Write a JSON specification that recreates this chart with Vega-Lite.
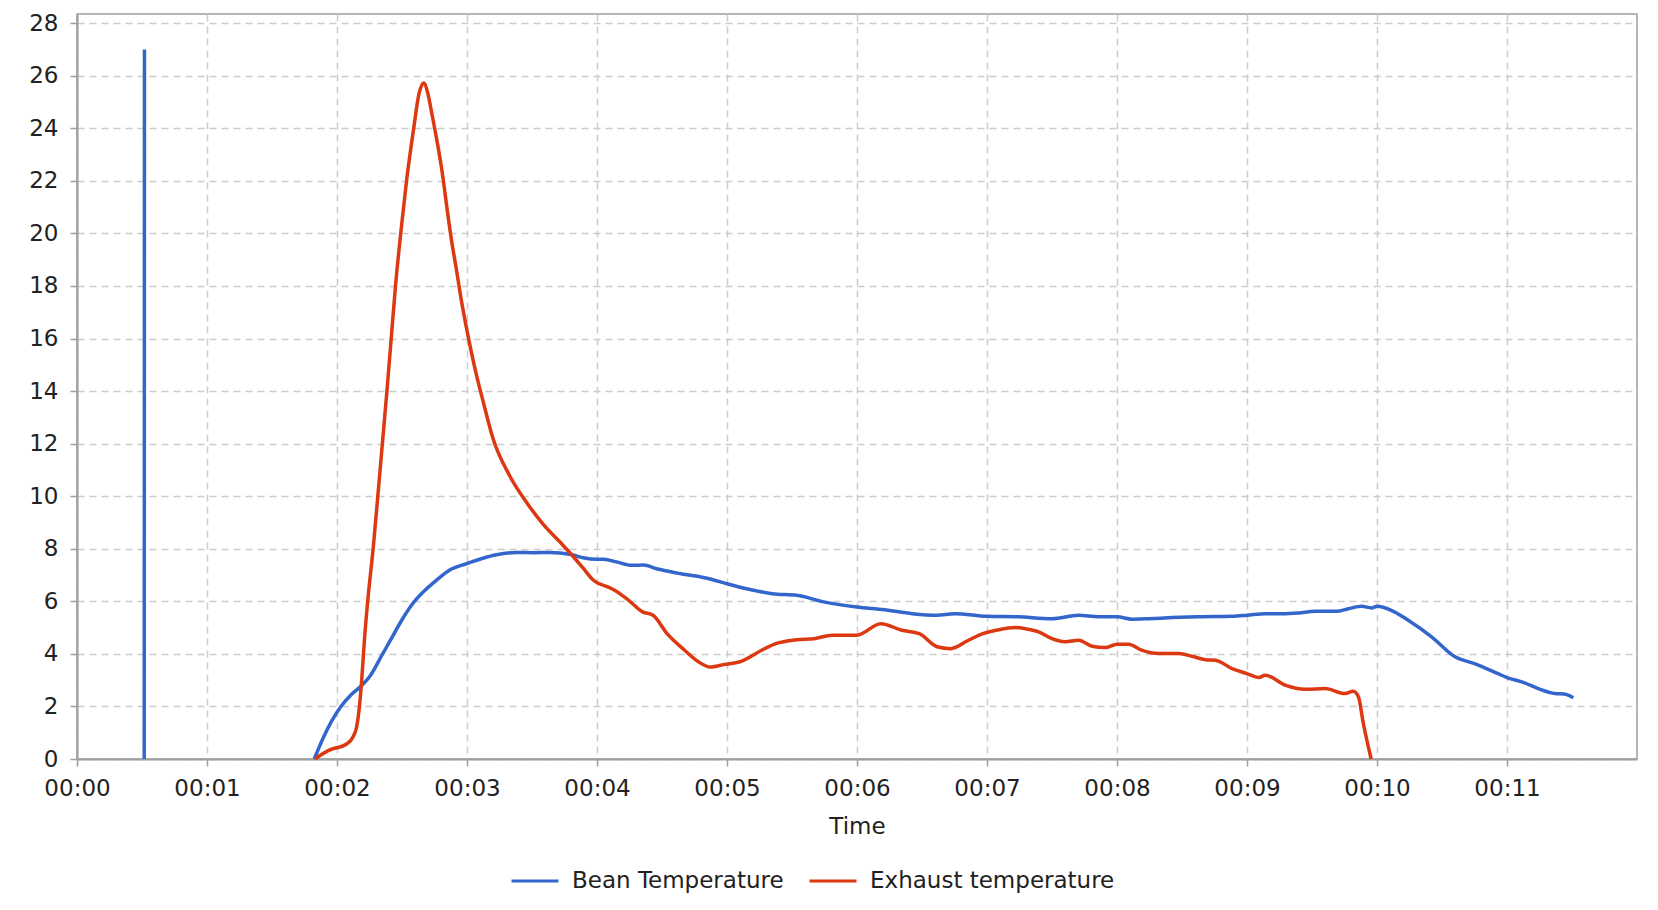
{
  "$schema": "https://vega.github.io/schema/vega-lite/v6.json",
  "autosize": "none",
  "width": 1560,
  "height": 745,
  "padding": {"left": 77, "top": 14, "right": 21, "bottom": 151},
  "background": "white",
  "data": {
    "values": [
      {"series": "Bean Temperature", "t": 0.517, "v": 0},
      {"series": "Bean Temperature", "t": 0.519, "v": 27},
      {"series": "Bean Temperature", "t": 1.0, "v": null},
      {"series": "Bean Temperature", "t": 1.825, "v": 0},
      {"series": "Bean Temperature", "t": 1.897, "v": 0.84},
      {"series": "Bean Temperature", "t": 1.962, "v": 1.47},
      {"series": "Bean Temperature", "t": 2.03, "v": 2.0},
      {"series": "Bean Temperature", "t": 2.103, "v": 2.42},
      {"series": "Bean Temperature", "t": 2.179, "v": 2.75},
      {"series": "Bean Temperature", "t": 2.26, "v": 3.2},
      {"series": "Bean Temperature", "t": 2.34, "v": 3.9},
      {"series": "Bean Temperature", "t": 2.42, "v": 4.6},
      {"series": "Bean Temperature", "t": 2.5, "v": 5.3},
      {"series": "Bean Temperature", "t": 2.58, "v": 5.9},
      {"series": "Bean Temperature", "t": 2.662, "v": 6.35},
      {"series": "Bean Temperature", "t": 2.764, "v": 6.8},
      {"series": "Bean Temperature", "t": 2.867, "v": 7.19},
      {"series": "Bean Temperature", "t": 3.0, "v": 7.44},
      {"series": "Bean Temperature", "t": 3.123, "v": 7.64},
      {"series": "Bean Temperature", "t": 3.226, "v": 7.77},
      {"series": "Bean Temperature", "t": 3.379, "v": 7.86},
      {"series": "Bean Temperature", "t": 3.515, "v": 7.85},
      {"series": "Bean Temperature", "t": 3.636, "v": 7.86},
      {"series": "Bean Temperature", "t": 3.8, "v": 7.78},
      {"series": "Bean Temperature", "t": 3.892, "v": 7.66},
      {"series": "Bean Temperature", "t": 4.0, "v": 7.6},
      {"series": "Bean Temperature", "t": 4.054, "v": 7.6},
      {"series": "Bean Temperature", "t": 4.15, "v": 7.5},
      {"series": "Bean Temperature", "t": 4.27, "v": 7.37},
      {"series": "Bean Temperature", "t": 4.358, "v": 7.38},
      {"series": "Bean Temperature", "t": 4.458, "v": 7.24},
      {"series": "Bean Temperature", "t": 4.647, "v": 7.05},
      {"series": "Bean Temperature", "t": 4.863, "v": 6.86},
      {"series": "Bean Temperature", "t": 5.0, "v": 6.67},
      {"series": "Bean Temperature", "t": 5.186, "v": 6.44},
      {"series": "Bean Temperature", "t": 5.348, "v": 6.29},
      {"series": "Bean Temperature", "t": 5.536, "v": 6.23},
      {"series": "Bean Temperature", "t": 5.752, "v": 5.97},
      {"series": "Bean Temperature", "t": 6.0, "v": 5.78},
      {"series": "Bean Temperature", "t": 6.21, "v": 5.68},
      {"series": "Bean Temperature", "t": 6.426, "v": 5.53},
      {"series": "Bean Temperature", "t": 6.615, "v": 5.47},
      {"series": "Bean Temperature", "t": 6.75, "v": 5.53},
      {"series": "Bean Temperature", "t": 7.0, "v": 5.43},
      {"series": "Bean Temperature", "t": 7.237, "v": 5.41},
      {"series": "Bean Temperature", "t": 7.5, "v": 5.34},
      {"series": "Bean Temperature", "t": 7.705, "v": 5.47},
      {"series": "Bean Temperature", "t": 7.859, "v": 5.41},
      {"series": "Bean Temperature", "t": 8.0, "v": 5.41},
      {"series": "Bean Temperature", "t": 8.115, "v": 5.32},
      {"series": "Bean Temperature", "t": 8.244, "v": 5.34},
      {"series": "Bean Temperature", "t": 8.423, "v": 5.38},
      {"series": "Bean Temperature", "t": 8.629, "v": 5.41},
      {"series": "Bean Temperature", "t": 8.885, "v": 5.43},
      {"series": "Bean Temperature", "t": 9.0, "v": 5.47},
      {"series": "Bean Temperature", "t": 9.141, "v": 5.53},
      {"series": "Bean Temperature", "t": 9.269, "v": 5.53},
      {"series": "Bean Temperature", "t": 9.397, "v": 5.56},
      {"series": "Bean Temperature", "t": 9.524, "v": 5.62},
      {"series": "Bean Temperature", "t": 9.69, "v": 5.62},
      {"series": "Bean Temperature", "t": 9.78, "v": 5.72},
      {"series": "Bean Temperature", "t": 9.882, "v": 5.81},
      {"series": "Bean Temperature", "t": 9.959, "v": 5.75},
      {"series": "Bean Temperature", "t": 10.0, "v": 5.81},
      {"series": "Bean Temperature", "t": 10.11, "v": 5.66},
      {"series": "Bean Temperature", "t": 10.24, "v": 5.28},
      {"series": "Bean Temperature", "t": 10.42, "v": 4.65},
      {"series": "Bean Temperature", "t": 10.6, "v": 3.89},
      {"series": "Bean Temperature", "t": 10.75, "v": 3.63},
      {"series": "Bean Temperature", "t": 10.93, "v": 3.25},
      {"series": "Bean Temperature", "t": 11.0, "v": 3.1},
      {"series": "Bean Temperature", "t": 11.135, "v": 2.9},
      {"series": "Bean Temperature", "t": 11.24, "v": 2.68},
      {"series": "Bean Temperature", "t": 11.37, "v": 2.49},
      {"series": "Bean Temperature", "t": 11.44, "v": 2.47},
      {"series": "Bean Temperature", "t": 11.51, "v": 2.33},
      {"series": "Exhaust temperature", "t": 1.833, "v": 0},
      {"series": "Exhaust temperature", "t": 1.872, "v": 0.14},
      {"series": "Exhaust temperature", "t": 1.936, "v": 0.33},
      {"series": "Exhaust temperature", "t": 2.077, "v": 0.58},
      {"series": "Exhaust temperature", "t": 2.123, "v": 0.84},
      {"series": "Exhaust temperature", "t": 2.15, "v": 1.2},
      {"series": "Exhaust temperature", "t": 2.172, "v": 1.97},
      {"series": "Exhaust temperature", "t": 2.19, "v": 3.0},
      {"series": "Exhaust temperature", "t": 2.212, "v": 4.6},
      {"series": "Exhaust temperature", "t": 2.24, "v": 6.2},
      {"series": "Exhaust temperature", "t": 2.278, "v": 8.0},
      {"series": "Exhaust temperature", "t": 2.314, "v": 10.0},
      {"series": "Exhaust temperature", "t": 2.349, "v": 12.0},
      {"series": "Exhaust temperature", "t": 2.384, "v": 14.0},
      {"series": "Exhaust temperature", "t": 2.417, "v": 16.0},
      {"series": "Exhaust temperature", "t": 2.45, "v": 18.0},
      {"series": "Exhaust temperature", "t": 2.49, "v": 20.0},
      {"series": "Exhaust temperature", "t": 2.535, "v": 22.0},
      {"series": "Exhaust temperature", "t": 2.59, "v": 24.0},
      {"series": "Exhaust temperature", "t": 2.63, "v": 25.3},
      {"series": "Exhaust temperature", "t": 2.667, "v": 25.72},
      {"series": "Exhaust temperature", "t": 2.7, "v": 25.3},
      {"series": "Exhaust temperature", "t": 2.73, "v": 24.55},
      {"series": "Exhaust temperature", "t": 2.764, "v": 23.66},
      {"series": "Exhaust temperature", "t": 2.81, "v": 22.3},
      {"series": "Exhaust temperature", "t": 2.841, "v": 21.15},
      {"series": "Exhaust temperature", "t": 2.879, "v": 19.8},
      {"series": "Exhaust temperature", "t": 2.918, "v": 18.64},
      {"series": "Exhaust temperature", "t": 2.956, "v": 17.47},
      {"series": "Exhaust temperature", "t": 3.0, "v": 16.3},
      {"series": "Exhaust temperature", "t": 3.072, "v": 14.63},
      {"series": "Exhaust temperature", "t": 3.123, "v": 13.63},
      {"series": "Exhaust temperature", "t": 3.2, "v": 12.2},
      {"series": "Exhaust temperature", "t": 3.328, "v": 10.78},
      {"series": "Exhaust temperature", "t": 3.456, "v": 9.78},
      {"series": "Exhaust temperature", "t": 3.585, "v": 8.94},
      {"series": "Exhaust temperature", "t": 3.713, "v": 8.27},
      {"series": "Exhaust temperature", "t": 3.8, "v": 7.8},
      {"series": "Exhaust temperature", "t": 3.892, "v": 7.27},
      {"series": "Exhaust temperature", "t": 3.973, "v": 6.8},
      {"series": "Exhaust temperature", "t": 4.097, "v": 6.52},
      {"series": "Exhaust temperature", "t": 4.135, "v": 6.42},
      {"series": "Exhaust temperature", "t": 4.243, "v": 6.04},
      {"series": "Exhaust temperature", "t": 4.35, "v": 5.6},
      {"series": "Exhaust temperature", "t": 4.431, "v": 5.47},
      {"series": "Exhaust temperature", "t": 4.539, "v": 4.77},
      {"series": "Exhaust temperature", "t": 4.674, "v": 4.14},
      {"series": "Exhaust temperature", "t": 4.78, "v": 3.7},
      {"series": "Exhaust temperature", "t": 4.87, "v": 3.5},
      {"series": "Exhaust temperature", "t": 4.98, "v": 3.6},
      {"series": "Exhaust temperature", "t": 5.1, "v": 3.7},
      {"series": "Exhaust temperature", "t": 5.267, "v": 4.14},
      {"series": "Exhaust temperature", "t": 5.375, "v": 4.39},
      {"series": "Exhaust temperature", "t": 5.536, "v": 4.54},
      {"series": "Exhaust temperature", "t": 5.671, "v": 4.58},
      {"series": "Exhaust temperature", "t": 5.81, "v": 4.71},
      {"series": "Exhaust temperature", "t": 6.0, "v": 4.71},
      {"series": "Exhaust temperature", "t": 6.183, "v": 5.15},
      {"series": "Exhaust temperature", "t": 6.345, "v": 4.9},
      {"series": "Exhaust temperature", "t": 6.48, "v": 4.77},
      {"series": "Exhaust temperature", "t": 6.615, "v": 4.27},
      {"series": "Exhaust temperature", "t": 6.72, "v": 4.2},
      {"series": "Exhaust temperature", "t": 6.85, "v": 4.5},
      {"series": "Exhaust temperature", "t": 6.968, "v": 4.77},
      {"series": "Exhaust temperature", "t": 7.09, "v": 4.92},
      {"series": "Exhaust temperature", "t": 7.218, "v": 5.0},
      {"series": "Exhaust temperature", "t": 7.295, "v": 4.96},
      {"series": "Exhaust temperature", "t": 7.397, "v": 4.84},
      {"series": "Exhaust temperature", "t": 7.5, "v": 4.58},
      {"series": "Exhaust temperature", "t": 7.603, "v": 4.46},
      {"series": "Exhaust temperature", "t": 7.705, "v": 4.52},
      {"series": "Exhaust temperature", "t": 7.808, "v": 4.29},
      {"series": "Exhaust temperature", "t": 7.91, "v": 4.24},
      {"series": "Exhaust temperature", "t": 8.0, "v": 4.37},
      {"series": "Exhaust temperature", "t": 8.09, "v": 4.37},
      {"series": "Exhaust temperature", "t": 8.19, "v": 4.14},
      {"series": "Exhaust temperature", "t": 8.32, "v": 4.01},
      {"series": "Exhaust temperature", "t": 8.474, "v": 4.01},
      {"series": "Exhaust temperature", "t": 8.577, "v": 3.91},
      {"series": "Exhaust temperature", "t": 8.68, "v": 3.78},
      {"series": "Exhaust temperature", "t": 8.757, "v": 3.76},
      {"series": "Exhaust temperature", "t": 8.885, "v": 3.44},
      {"series": "Exhaust temperature", "t": 9.0, "v": 3.25},
      {"series": "Exhaust temperature", "t": 9.09, "v": 3.1},
      {"series": "Exhaust temperature", "t": 9.14, "v": 3.19},
      {"series": "Exhaust temperature", "t": 9.294, "v": 2.81},
      {"series": "Exhaust temperature", "t": 9.448, "v": 2.65},
      {"series": "Exhaust temperature", "t": 9.6, "v": 2.68},
      {"series": "Exhaust temperature", "t": 9.754, "v": 2.49},
      {"series": "Exhaust temperature", "t": 9.818, "v": 2.58},
      {"series": "Exhaust temperature", "t": 9.857, "v": 2.37},
      {"series": "Exhaust temperature", "t": 9.895, "v": 1.35},
      {"series": "Exhaust temperature", "t": 9.955, "v": 0}
    ]
  },
  "mark": {"type": "line", "strokeWidth": 3.5, "interpolate": "monotone"},
  "encoding": {
    "x": {
      "field": "t",
      "type": "quantitative",
      "title": "Time",
      "scale": {"domain": [0, 12], "nice": false, "zero": false},
      "axis": {
        "values": [0, 1, 2, 3, 4, 5, 6, 7, 8, 9, 10, 11],
        "labelExpr": "'00:' + (datum.value < 10 ? '0' : '') + datum.value",
        "labelFlush": false,
        "labelPadding": 11,
        "titlePadding": 15
      }
    },
    "y": {
      "field": "v",
      "type": "quantitative",
      "title": null,
      "scale": {"domain": [0, 28.35], "nice": false},
      "axis": {
        "values": [0, 2, 4, 6, 8, 10, 12, 14, 16, 18, 20, 22, 24, 26, 28],
        "labelFlush": false,
        "labelPadding": 12
      }
    },
    "color": {
      "field": "series",
      "type": "nominal",
      "title": null,
      "scale": {
        "domain": ["Bean Temperature", "Exhaust temperature"],
        "range": ["#3366cc", "#dc3912"]
      },
      "legend": {
        "orient": "none",
        "direction": "horizontal",
        "legendX": 433,
        "legendY": 842,
        "symbolType": "stroke",
        "symbolSize": 2209,
        "symbolStrokeWidth": 3,
        "labelOffset": 12,
        "labelLimit": 0,
        "columnPadding": 19,
        "padding": 0,
        "labelFontSize": 23,
        "labelColor": "#222",
        "labelFont": "DejaVu Sans"
      }
    }
  },
  "config": {
    "font": "DejaVu Sans",
    "view": {"stroke": "#9e9e9e", "strokeWidth": 1.5},
    "axis": {
      "labelFontSize": 23,
      "labelColor": "#222",
      "titleFontSize": 23,
      "titleFontWeight": "normal",
      "titleColor": "#222",
      "domainColor": "#9e9e9e",
      "domainWidth": 2,
      "tickColor": "#9e9e9e",
      "tickSize": 7,
      "tickWidth": 1.5,
      "gridColor": "#cccccc",
      "gridDash": [7, 5],
      "gridWidth": 1.5
    }
  }
}
